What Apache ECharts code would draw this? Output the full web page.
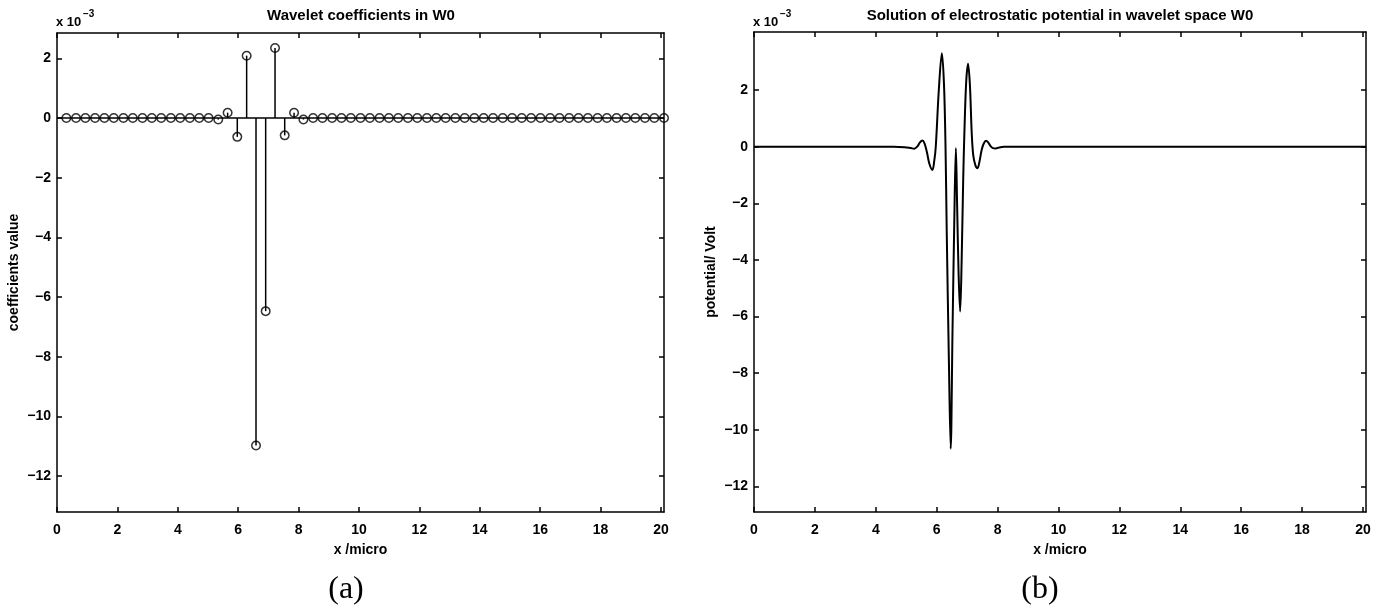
<!DOCTYPE html>
<html>
<head>
<meta charset="utf-8">
<script src="https://cdn.jsdelivr.net/npm/echarts@6/dist/echarts.min.js"></script>
<style>
  html, body { margin: 0; background: #fff; }
  #chart { width: 1383px; height: 614px; }
</style>
</head>
<body>
<div id="chart"></div>
<script>
// values on the y axes are in units of 1e-3 (the "x 10^-3" on the plot)

// (a) stem plot: x positions and coefficient values
const stemX = [0.31, 0.63, 0.94, 1.26, 1.57, 1.88, 2.2, 2.51, 2.83, 3.14, 3.45, 3.77, 4.08, 4.4, 4.71, 5.02,
  5.34, 5.65, 5.97, 6.28, 6.59, 6.91, 7.22, 7.54, 7.85, 8.16, 8.48, 8.79, 9.11, 9.42, 9.73, 10.05,
  10.36, 10.68, 10.99, 11.3, 11.62, 11.93, 12.25, 12.56, 12.87, 13.19, 13.5, 13.82, 14.13, 14.44, 14.76, 15.07,
  15.39, 15.7, 16.01, 16.33, 16.64, 16.96, 17.27, 17.58, 17.9, 18.21, 18.53, 18.84, 19.15, 19.47, 19.78, 20.1];
const stemY = [0, 0, 0, 0, 0, 0, 0, 0, 0, 0, 0, 0, 0, 0, 0, 0,
  -0.05, 0.18, -0.63, 2.09, -10.97, -6.47, 2.35, -0.58, 0.18, -0.05, 0, 0, 0, 0, 0, 0,
  0, 0, 0, 0, 0, 0, 0, 0, 0, 0, 0, 0, 0, 0, 0, 0,
  0, 0, 0, 0, 0, 0, 0, 0, 0, 0, 0, 0, 0, 0, 0, 0];

// (b) potential curve
const curveX = [0, 4.6, 4.95, 5.15, 5.26, 5.36, 5.45, 5.53, 5.6, 5.68, 5.76, 5.86, 5.92, 5.97,
  6.07, 6.17, 6.24, 6.29, 6.33, 6.4, 6.46, 6.52, 6.58, 6.63, 6.67, 6.72, 6.77, 6.82, 6.87,
  6.91, 6.97, 7.03, 7.09, 7.15, 7.2, 7.27, 7.34, 7.41, 7.48, 7.55, 7.62, 7.69, 7.77, 7.85,
  7.94, 8.05, 8.2, 20.1];
const curveY = [0, 0, -0.02, -0.05, -0.07, 0, 0.15, 0.22, 0.12, -0.2, -0.6, -0.82, -0.5, 0,
  2.0, 3.3, 2.2, 0, -3, -7.5, -10.67, -6.5, -2.5, -0.05, -2, -4.5, -5.82, -4, -1.2,
  0.5, 2.3, 2.93, 2.2, 0.5, -0.3, -0.65, -0.76, -0.5, -0.1, 0.12, 0.21, 0.15, 0.02, -0.05,
  -0.06, -0.03, 0, 0];

const xTicks = [0, 2, 4, 6, 8, 10, 12, 14, 16, 18, 20];
const yTicks = [-12, -10, -8, -6, -4, -2, 0, 2];

const FONT = '"Liberation Sans", Arial, sans-serif';
const black = '#000';
const fmt = v => String(v).replace('-', '\u2212');

function xPair(grid, max) {
  const base = {
    type: 'value', gridIndex: grid, min: 0, max: max,
    axisLine: { show: true, onZero: false, lineStyle: { color: black, width: 1.5 } },
    axisTick: { show: true, inside: true, length: 5, customValues: xTicks, lineStyle: { color: black, width: 1.5 } },
    splitLine: { show: false }
  };
  return [
    Object.assign({}, base, {
      position: 'bottom',
      axisLabel: { customValues: xTicks, color: black, fontSize: 14, fontWeight: 'bold', fontFamily: FONT, margin: 11, formatter: fmt },
      name: 'x /micro', nameLocation: 'middle', nameGap: 31,
      nameTextStyle: { color: black, fontSize: 14, fontWeight: 'bold', fontFamily: FONT }
    }),
    Object.assign({}, base, { position: 'top', axisLabel: { show: false } })
  ];
}

function yPair(grid, min, max, name, gap) {
  const base = {
    type: 'value', gridIndex: grid, min: min, max: max,
    axisLine: { show: true, onZero: false, lineStyle: { color: black, width: 1.5 } },
    axisTick: { show: true, inside: true, length: 5, customValues: yTicks, lineStyle: { color: black, width: 1.5 } },
    splitLine: { show: false }
  };
  return [
    Object.assign({}, base, {
      position: 'left',
      axisLabel: { customValues: yTicks, color: black, fontSize: 14, fontWeight: 'bold', fontFamily: FONT, margin: 6, formatter: fmt },
      name: name, nameLocation: 'middle', nameGap: gap,
      nameTextStyle: { color: black, fontSize: 14, fontWeight: 'bold', fontFamily: FONT }
    }),
    Object.assign({}, base, { position: 'right', axisLabel: { show: false } })
  ];
}

function label(text, x, y, size, extra) {
  return {
    type: 'text', x: x, y: y,
    style: Object.assign({ text: text, fill: black, font: 'bold ' + size + 'px ' + FONT }, extra || {})
  };
}

const chart = echarts.init(document.getElementById('chart'));
chart.setOption({
  backgroundColor: '#fff',
  animation: false,
  grid: [
    { left: 57, top: 33, width: 607, height: 479 },
    { left: 754, top: 32, width: 612, height: 480 }
  ],
  xAxis: xPair(0, 20.1).concat(xPair(1, 20.1)),
  yAxis: yPair(0, -13.2, 2.85, 'coefficients value', 36).concat(yPair(1, -12.9, 4.05, 'potential/ Volt', 36)),
  graphic: [
    label('Wavelet coefficients in W0', 361, 16, 15, { align: 'center', verticalAlign: 'middle' }),
    label('Solution of electrostatic potential in wavelet space W0', 1060, 16, 15, { align: 'center', verticalAlign: 'middle' }),
    label('x 10', 56, 16, 13),
    label('\u22123', 83, 9, 10),
    label('x 10', 753, 16, 13),
    label('\u22123', 780, 9, 10),
    { type: 'text', x: 346, y: 590, style: { text: '(a)', fill: black, font: '32px "Liberation Serif", serif', align: 'center', verticalAlign: 'middle' } },
    { type: 'text', x: 1040, y: 590, style: { text: '(b)', fill: black, font: '32px "Liberation Serif", serif', align: 'center', verticalAlign: 'middle' } }
  ],
  series: [
    {
      type: 'custom', xAxisIndex: 0, yAxisIndex: 0,
      data: stemX.map((x, i) => [x, stemY[i]]),
      renderItem: function (params, api) {
        const p0 = api.coord([api.value(0), 0]);
        const p1 = api.coord([api.value(0), api.value(1)]);
        return { type: 'line', shape: { x1: p0[0], y1: p0[1], x2: p1[0], y2: p1[1] }, style: { stroke: black, lineWidth: 1.5 } };
      }
    },
    {
      type: 'scatter', xAxisIndex: 0, yAxisIndex: 0,
      data: stemX.map((x, i) => [x, stemY[i]]),
      symbol: 'circle', symbolSize: 8.5,
      itemStyle: { color: 'rgba(0,0,0,0)', borderColor: black, borderWidth: 1.5 },
      markLine: {
        silent: true, symbol: 'none', label: { show: false },
        lineStyle: { color: black, type: 'solid', width: 1.5 },
        data: [{ yAxis: 0 }]
      }
    },
    {
      type: 'line', xAxisIndex: 2, yAxisIndex: 2,
      data: curveX.map((x, i) => [x, curveY[i]]),
      symbol: 'none', smooth: 0.35,
      lineStyle: { color: black, width: 2 }
    }
  ]
});
</script>
</body>
</html>
